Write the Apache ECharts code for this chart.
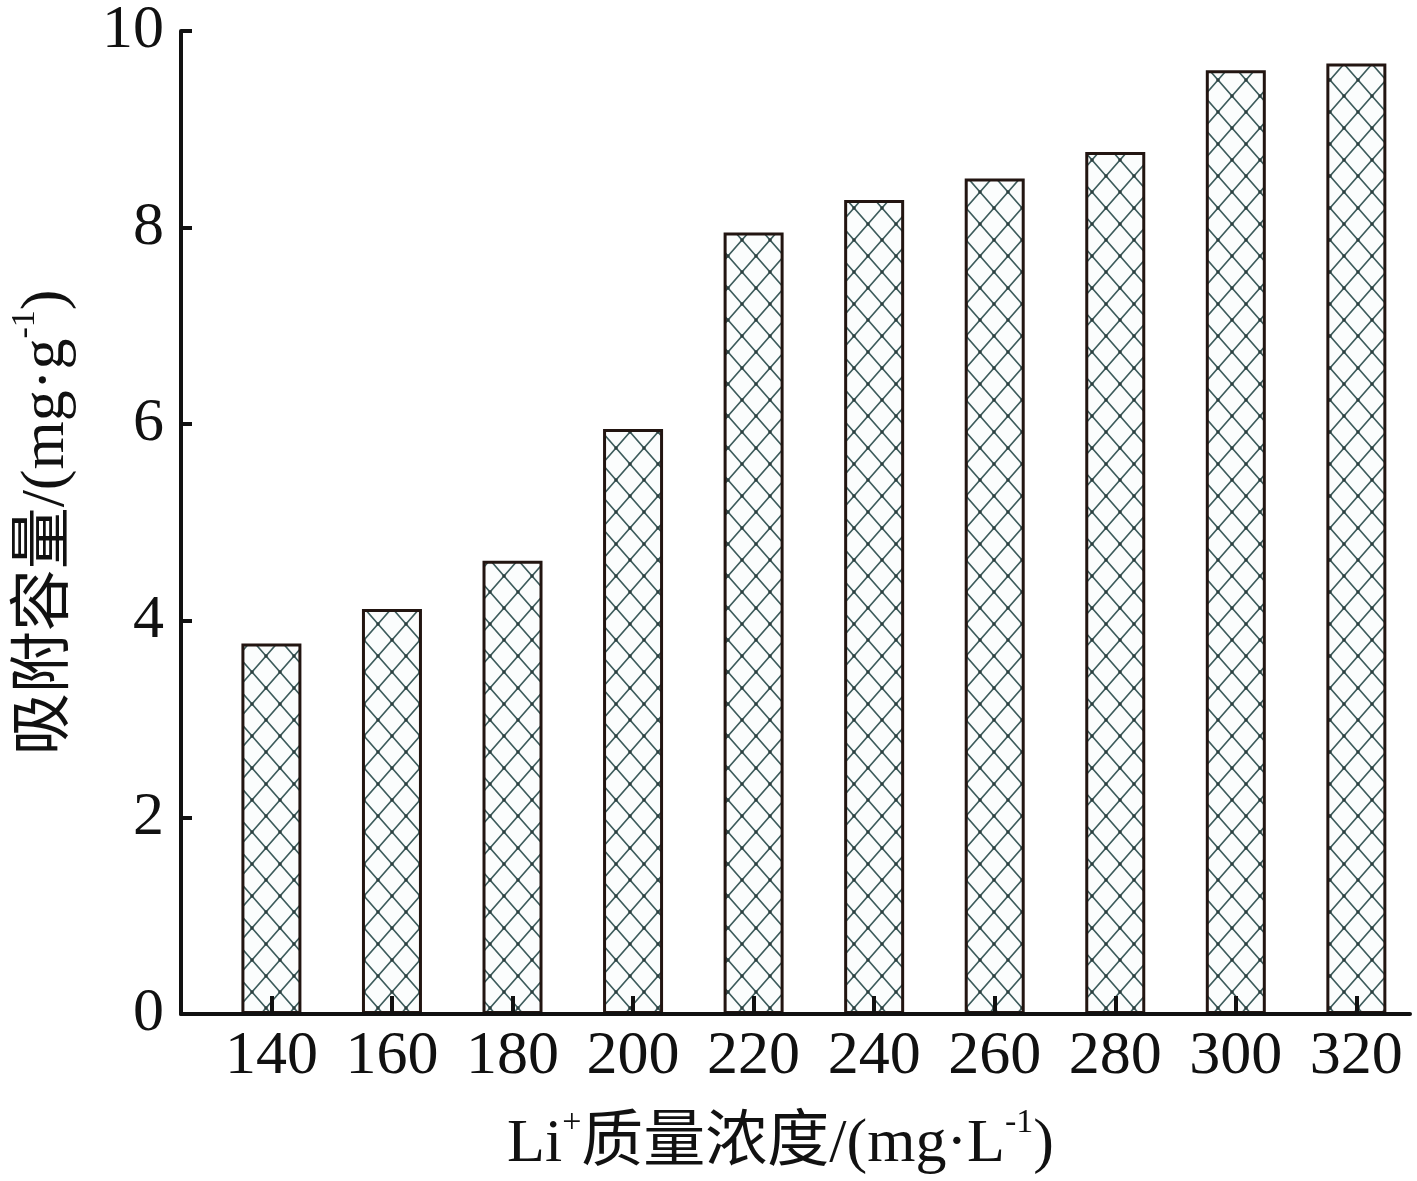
<!DOCTYPE html>
<html><head><meta charset="utf-8">
<script src="https://cdn.jsdelivr.net/npm/echarts@6/dist/echarts.min.js"></script>
<style>html,body{margin:0;padding:0;background:#fff}#c{width:1417px;height:1181px}</style>
</head><body><div id="c"></div>
<script>
const categories = [140, 160, 180, 200, 220, 240, 260, 280, 300, 320];
const capacity = [3.77, 4.12, 4.61, 5.95, 7.95, 8.28, 8.50, 8.77, 9.60, 9.67];
const yTicks = [0, 2, 4, 6, 8, 10];

// hatch pattern
const pc = document.createElement('canvas');
pc.width = 28; pc.height = 32;
const g = pc.getContext('2d');
g.fillStyle = '#fbfdfd'; g.fillRect(0,0,28,32);
g.strokeStyle = '#3d5c5c'; g.lineWidth = 1.6;
g.beginPath(); g.moveTo(0,0); g.lineTo(28,32); g.moveTo(28,0); g.lineTo(0,32); g.stroke();
g.fillStyle = '#2b3f3f';
[[0,0],[28,0],[0,32],[28,32],[14,16]].forEach(p=>{g.beginPath();g.arc(p[0],p[1],1.8,0,Math.PI*2);g.fill();});

const serif = '"Liberation Serif", "Times New Roman", "Noto Sans CJK SC", serif';
const rich = {
  a:{fontSize:62, fontFamily:serif, color:'#111', lineHeight:70, verticalAlign:'bottom'},
  s:{fontSize:34, fontFamily:serif, color:'#111', lineHeight:70, verticalAlign:'top', padding:[0,0,28,0]}
};
const chart = echarts.init(document.getElementById('c'), null, {renderer:'canvas'});
chart.setOption({
  animation:false,
  backgroundColor:'#fff',
  grid:{left:178, right:7, top:30, bottom:162, containLabel:false},
  xAxis:{
    type:'value', min:125, max:328.9, z:5,
    splitLine:{show:false},
    axisLine:{show:true, onZero:false, lineStyle:{color:'#111', width:4}},
    axisTick:{show:true, inside:true, length:18, customValues:categories, lineStyle:{color:'#111', width:4}},
    axisLabel:{show:true, customValues:categories, margin:12, fontSize:62, fontFamily:serif, color:'#111'},
    name:'{a|Li}{s|+}{a|质量浓度/(mg·L}{s|-1}{a|)}',
    nameLocation:'middle', nameGap:92,
    nameTextStyle:{rich:rich, padding:[0,30,0,0]}
  },
  yAxis:{
    type:'value', min:0, max:10, interval:2, z:5,
    splitLine:{show:false},
    axisLine:{show:true, lineStyle:{color:'#111', width:4}},
    axisTick:{show:true, inside:true, length:11, lineStyle:{color:'#111', width:4}},
    axisLabel:{margin:17, fontSize:62, fontFamily:serif, color:'#111', formatter:v=>yTicks.includes(v)?String(v):''},
    name:'{a|吸附容量/(mg·g}{s|-1}{a|)}',
    nameLocation:'middle', nameGap:103, nameRotate:90,
    nameTextStyle:{rich:rich}
  },
  series:[{
    type:'bar', barWidth:60, z:2,
    data:categories.map((c,i)=>[c, capacity[i]]),
    itemStyle:{color:{image:pc, repeat:'repeat'}, borderColor:'#221511', borderWidth:3}
  }]
});
</script></body></html>
